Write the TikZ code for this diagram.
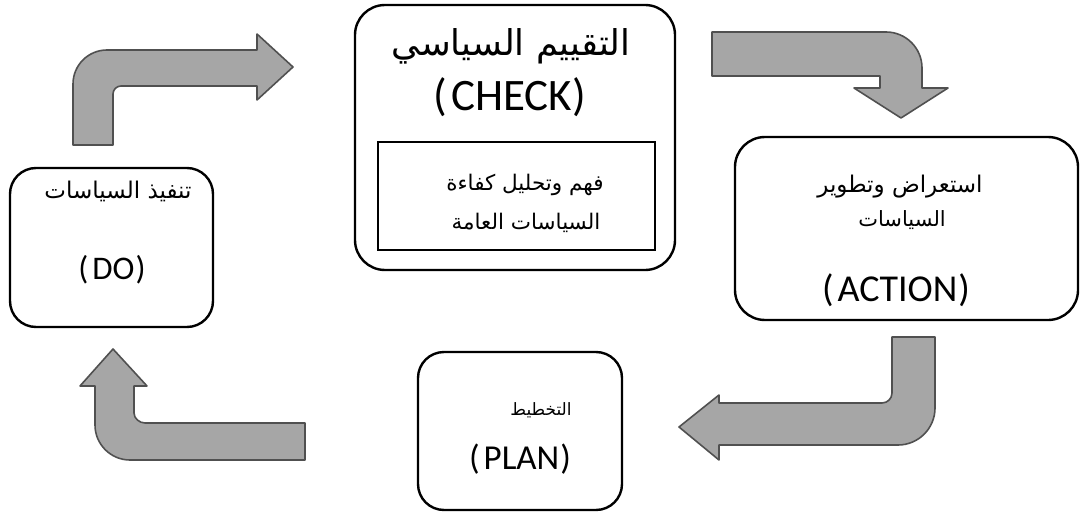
\documentclass[tikz,border=0pt]{standalone}
\usepackage{fontspec}
\setmainfont{Carlito}
\newfontfamily\arabicfont[Script=Arabic]{DejaVu Sans}
\TeXXeTstate=1
\definecolor{arrowfill}{HTML}{A6A6A6}
\definecolor{arrowline}{HTML}{505050}
\tikzset{
  blockarrow/.style={fill=arrowfill, draw=arrowline, line width=1.6pt, line join=round},
  stagebox/.style={draw=black, line width=2.4pt, rounded corners=26pt, inner sep=0pt},
  innerbox/.style={draw=black, line width=1.3pt, inner sep=0pt},
  artext/.style={font=\arabicfont, inner sep=0pt, anchor=center},
  latext/.style={inner sep=0pt, anchor=center},
}
\newcommand{\paren}[1]{(\kern4pt#1\kern1pt)}
\begin{document}
\begin{tikzpicture}[x=1pt,y=-1pt]
\useasboundingbox (0,0) rectangle (1081,516);

% boxes
\node[stagebox, minimum width=320pt, minimum height=265pt, rounded corners=30pt] (check) at (515,137.5) {};
\node[innerbox, minimum width=277pt, minimum height=108pt] (checkin) at (516.5,196) {};
\node[stagebox, minimum width=203pt, minimum height=159pt] (do) at (111.5,247.5) {};
\node[stagebox, minimum width=343pt, minimum height=183pt, rounded corners=30pt] (action) at (906.5,228.5) {};
\node[stagebox, minimum width=204pt, minimum height=158pt] (plan) at (520,431) {};

% texts
\node[artext, font=\arabicfont\fontsize{35.5}{40}\selectfont] (t1) at (511,46) {\beginR التقييم السياسي\endR};
\node[latext, font=\fontsize{45}{48}\selectfont] (t2) at (510,97) {\paren{CHECK}};
\node[artext, font=\arabicfont\fontsize{21.5}{24}\selectfont] (t3) at (525,185) {\beginR فهم وتحليل كفاءة\endR};
\node[artext, font=\arabicfont\fontsize{21.5}{24}\selectfont] (t4) at (526,223) {\beginR السياسات العامة\endR};

\node[artext, font=\arabicfont\fontsize{23}{26}\selectfont] (d1) at (118,191) {\beginR تنفيذ السياسات\endR};
\node[latext, font=\fontsize{33}{36}\selectfont] (d2) at (112,270) {\paren{DO}};

\node[artext, font=\arabicfont\fontsize{23}{26}\selectfont] (a1) at (900,187) {\beginR استعراض وتطوير\endR};
\node[artext, font=\arabicfont\fontsize{21}{24}\selectfont] (a2) at (902,220) {\beginR السياسات\endR};
\node[latext, font=\fontsize{38}{42}\selectfont] (a3) at (896,290) {\paren{ACTION}};

\node[artext, font=\arabicfont\fontsize{17}{20}\selectfont] (p1) at (541,410) {\beginR التخطيط\endR};
\node[latext, font=\fontsize{35}{38}\selectfont] (p2) at (520,459) {\paren{PLAN}};

% block arrows
\draw[blockarrow] (73,145) -- (73,84) .. controls (73,65.2) and (88.2,50) .. (107,50) -- (257,50) -- (257,34) -- (293,67) -- (257,100) -- (257,86) -- (121,86) .. controls (116.6,86) and (113,89.6) .. (113,94) -- (113,145) -- cycle;
\draw[blockarrow] (712,32) -- (886,32) .. controls (905.9,32) and (922,48.1) .. (922,68) -- (922,88) -- (948,88) -- (901,118) -- (854,88) -- (880,88) -- (880,76) -- (712,76) -- cycle;
\draw[blockarrow] (892,337) -- (935,337) -- (935,408) .. controls (935,428.4) and (918.4,445) .. (898,445) -- (719,445) -- (719,460) -- (679,427) -- (719,395) -- (719,403) -- (882,403) .. controls (887.5,403) and (892,398.5) .. (892,393) -- cycle;
\draw[blockarrow] (305,423) -- (145,423) .. controls (139.5,423) and (134,418.5) .. (134,413) -- (134,386) -- (147,386) -- (113,349) -- (80,386) -- (95,386) -- (95,425) .. controls (95,444.3) and (110.7,460) .. (130,460) -- (305,460) -- cycle;
\end{tikzpicture}
\end{document}
